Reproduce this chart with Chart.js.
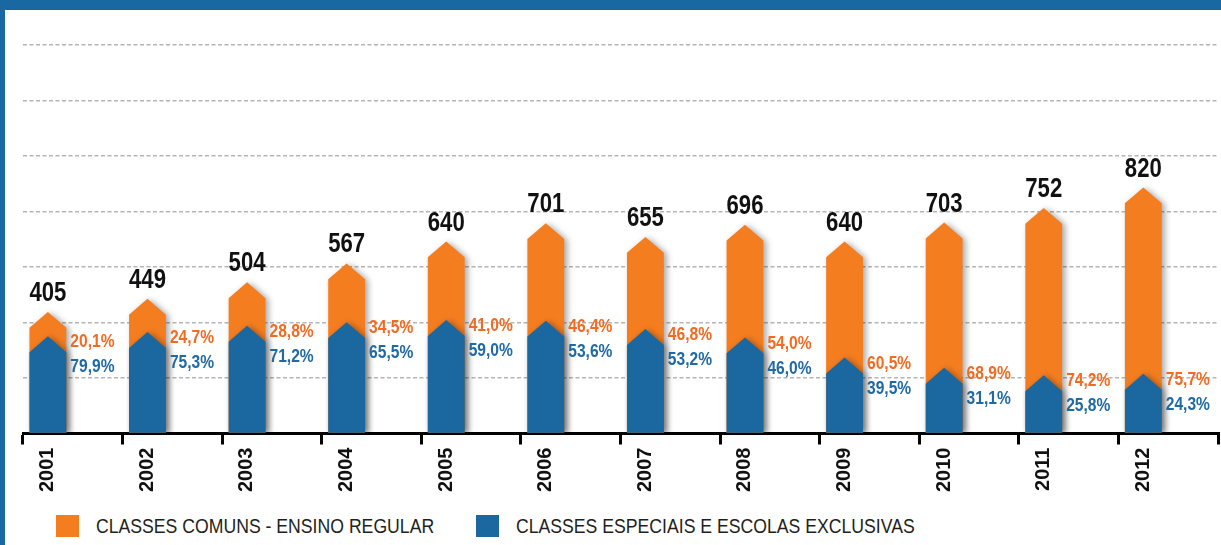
<!DOCTYPE html>
<html lang="pt-BR">
<head>
<meta charset="utf-8">
<title>Matrículas na educação especial - 2001 a 2012</title>
<script src="https://cdn.jsdelivr.net/npm/chart.js@4.4.1/dist/chart.umd.min.js"></script>
<style>
  html, body { margin: 0; padding: 0; background: #fff; }
  #moldura {
    position: relative;
    width: 1216px;
    height: 535px;
    border-top: 10px solid #1a68a1;
    border-left: 5px solid #1a68a1;
    overflow: hidden;
  }
  #grafico { display: block; }
  .item {
    position: absolute;
    top: 505px;
    height: 22px;
    display: flex;
    align-items: center;
    font-family: 'Liberation Sans', Arial, sans-serif;
    font-size: 21px;
    color: #231f20;
    white-space: nowrap;
  }
  .item span.caixa { width: 23px; height: 22px; margin-right: 17px; display: inline-block; flex: none; }
  .item span.texto { display: inline-block; transform: scaleX(0.84); transform-origin: left center; }
</style>
</head>
<body>
<div id="moldura">
  <canvas id="grafico" width="1216" height="490"></canvas>
  <div id="legenda"></div>
</div>
<script>
// Dados
const anos = ['2001', '2002', '2003', '2004', '2005', '2006', '2007', '2008', '2009', '2010', '2011', '2012'];
const totais = [405, 449, 504, 567, 640, 701, 655, 696, 640, 703, 752, 820];
const especiais = [324, 338, 359, 371, 378, 376, 348, 320, 253, 219, 194, 199];
const pctComuns = [20.1, 24.7, 28.8, 34.5, 41.0, 46.4, 46.8, 54.0, 60.5, 68.9, 74.2, 75.7];
const pctEspeciais = [79.9, 75.3, 71.2, 65.5, 59.0, 53.6, 53.2, 46.0, 39.5, 31.1, 25.8, 24.3];
const eixoY = { min: 0, max: 1295, passo: 185 };

const laranja = '#f47d20';
const azul = '#1b68a0';
const textoLaranja = '#f26b22';
const textoAzul = '#1f69a5';
const fonte = "'Liberation Sans', Arial, sans-serif";
const estreito = 0.82; // simula a fonte condensada do original

// formata 20.1 -> "20,1%"
function pct(v) {
    return v.toFixed(1).replace('.', ',') + '%';
}

// texto comprimido na horizontal
function textoEstreito(ctx, txt, x, y, align) {
    ctx.save();
    ctx.translate(x, y);
    ctx.scale(estreito, 1);
    ctx.textAlign = align;
    ctx.fillText(txt, 0, 0);
    ctx.restore();
}

// Desenha as barras em forma de seta (pentágono)
const setasPlugin = {
    id: 'setas',
    beforeDatasetDraw(chart, args) {
        const ds = chart.data.datasets[args.index];
        if (!ds.seta) return;
        const ctx = chart.ctx;
        const area = chart.chartArea;
        ctx.save();
        ctx.beginPath();
        ctx.rect(area.left - 5, 0, area.right - area.left + 10, area.bottom);
        ctx.clip();
        ctx.fillStyle = ds.backgroundColor;
        ctx.shadowColor = 'rgba(0, 0, 0, 0.35)';
        ctx.shadowBlur = 6;
        ctx.shadowOffsetX = 3;
        ctx.shadowOffsetY = 1;
        args.meta.data.forEach(bar => {
            const { x, y, base, width } = bar.getProps(['x', 'y', 'base', 'width'], true);
            const l = x - width / 2;
            const r = x + width / 2;
            const h = width * 0.43;
            ctx.beginPath();
            ctx.moveTo(l, base);
            ctx.lineTo(l, y + h);
            ctx.lineTo(x, y);
            ctx.lineTo(r, y + h);
            ctx.lineTo(r, base);
            ctx.closePath();
            ctx.fill();
        });
        ctx.restore();
        return false;
    }
};

// Rótulos: total acima e percentuais à direita
const rotulosPlugin = {
    id: 'rotulos',
    afterDatasetsDraw(chart) {
        const ctx = chart.ctx;
        const metaTot = chart.getDatasetMeta(0);
        const metaEsp = chart.getDatasetMeta(1);
        ctx.save();
        ctx.textBaseline = 'alphabetic';
        metaTot.data.forEach((bar, i) => {
            const esp = metaEsp.data[i];
            const xDir = bar.x + bar.width / 2 + 4;

            ctx.font = 'bold 27px ' + fonte;
            ctx.fillStyle = '#111';
            textoEstreito(ctx, String(totais[i]), bar.x, bar.y - 11, 'center');

            ctx.font = 'bold 19px ' + fonte;
            ctx.fillStyle = textoLaranja;
            textoEstreito(ctx, pct(pctComuns[i]), xDir, esp.y + 11, 'left');
            ctx.fillStyle = textoAzul;
            textoEstreito(ctx, pct(pctEspeciais[i]), xDir, esp.y + 36, 'left');
        });
        ctx.restore();
    }
};

const ctx = document.getElementById('grafico').getContext('2d');
const grafico = new Chart(ctx, {
    type: 'bar',
    data: {
        labels: anos,
        datasets: [
            {
                label: 'CLASSES COMUNS - ENSINO REGULAR',
                data: totais,
                backgroundColor: laranja,
                stack: 'a',
                order: 1,
                seta: true
            },
            {
                label: 'CLASSES ESPECIAIS E ESCOLAS EXCLUSIVAS',
                data: especiais,
                backgroundColor: azul,
                stack: 'a',
                order: 0,
                seta: true
            },
            {
                // espaço vazio à direita de cada barra
                label: '',
                data: anos.map(() => null),
                stack: 'b',
                order: 2
            }
        ]
    },
    options: {
        responsive: false,
        animation: false,
        datasets: {
            bar: { categoryPercentage: 1, barPercentage: 0.74 }
        },
        layout: { padding: { left: 18, right: 3, top: 35, bottom: 5 } },
        plugins: {
            legend: { display: false },
            tooltip: { enabled: false }
        },
        scales: {
            x: {
                stacked: true,
                z: 1,
                grid: {
                    offset: true,
                    drawOnChartArea: false,
                    drawTicks: true,
                    tickLength: 11,
                    color: '#000',
                    lineWidth: 3
                },
                border: { display: true, color: '#000', width: 3 },
                ticks: {
                    minRotation: 90,
                    maxRotation: 90,
                    labelOffset: -25,
                    padding: 3,
                    color: '#111',
                    font: { family: fonte, size: 20, weight: 'bold' }
                }
            },
            y: {
                stacked: false,
                min: eixoY.min,
                max: eixoY.max,
                ticks: { display: false, stepSize: eixoY.passo },
                grid: { color: '#b5b5b5', lineWidth: 1.5, drawTicks: false },
                border: { display: false, dash: [4, 2.5] },
                afterFit(scale) { scale.width = 0; }
            }
        }
    },
    plugins: [setasPlugin, rotulosPlugin]
});

// Legenda em HTML a partir dos datasets
const legenda = document.getElementById('legenda');
const posLegenda = [51, 471];
grafico.data.datasets.filter(d => d.seta).forEach((d, i) => {
    const item = document.createElement('div');
    item.className = 'item';
    item.style.left = posLegenda[i] + 'px';
    const caixa = document.createElement('span');
    caixa.className = 'caixa';
    caixa.style.background = d.backgroundColor;
    const texto = document.createElement('span');
    texto.className = 'texto';
    texto.textContent = d.label;
    item.appendChild(caixa);
    item.appendChild(texto);
    legenda.appendChild(item);
});
</script>
</body>
</html>
